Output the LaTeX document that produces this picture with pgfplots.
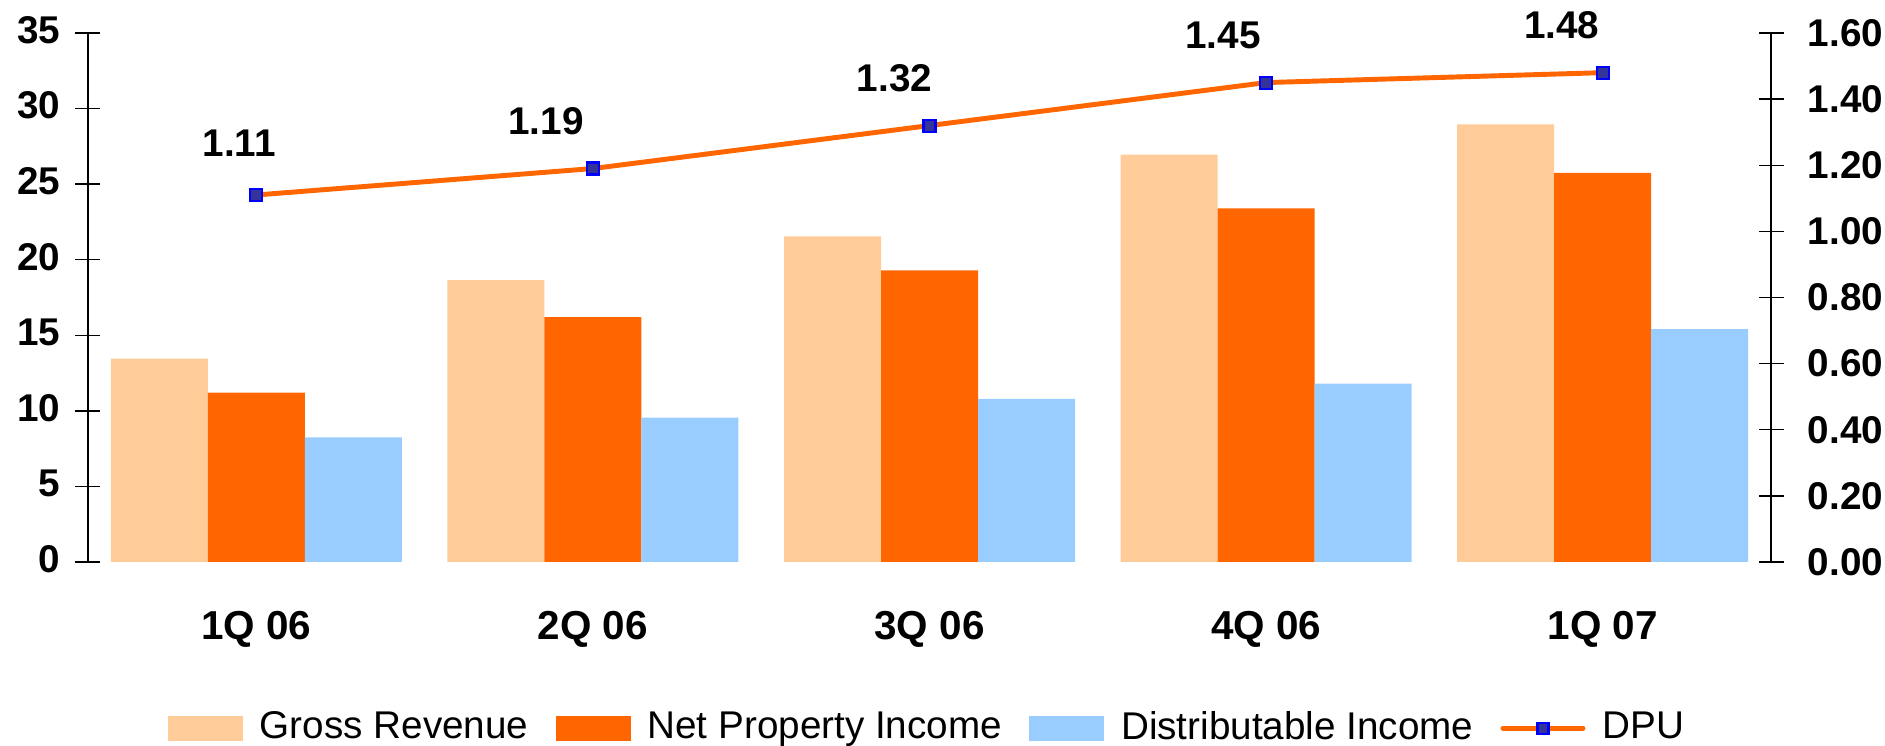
\documentclass[border=0pt]{standalone}
\usepackage{pgfplots}
\pgfplotsset{compat=1.18}
\usepackage{pgfplotstable}
\usepackage{fontspec}
\setmainfont{Liberation Sans}

\definecolor{gross}{HTML}{FFCC99}
\definecolor{npi}{HTML}{FF6600}
\definecolor{dist}{HTML}{99CCFF}
\definecolor{dpuline}{HTML}{FF6600}
\definecolor{dpufill}{HTML}{333399}

% values in S$ million (left) and DPU in cents (right)
\pgfplotstableread{
x gross npi dist
0 13.45 11.2 8.25
1 18.65 16.2 9.55
2 21.55 19.3 10.8
3 26.95 23.4 11.8
4 28.95 25.75 15.4
}\incomedata

\pgfplotstableread{
x dpu xs ys
0 1.11 -1.7 5.2
1 1.19 -4.7 4.7
2 1.32 -3.5 4.7
3 1.45 -4.3 4.7
4 1.48 -4.1 4.7
}\dpudata

\begin{document}
\begin{tikzpicture}
\pgfplotsset{
  base/.style={
    at={(0,0)}, anchor=south west,
    scale only axis, width=168.3mm, height=52.9mm,
    xmin=-0.5, xmax=4.5,
    tick align=center, major tick length=2.5mm,
    tick style={black, line width=0.4pt},
    /pgf/number format/assume math mode=true,
    ticklabel style={font=\fontsize{11}{13}\selectfont\bfseries},
  }
}
\begin{axis}[
  base,
  ybar=0pt, bar width=9.7mm,
  ymin=0, ymax=35, ytick={0,5,...,35},
  axis y line*=left, axis x line*=bottom,
  x axis line style={draw=none},
  xtick={0,1,2,3,4}, xtick style={draw=none},
  xticklabels={1Q 06,2Q 06,3Q 06,4Q 06,1Q 07},
  xticklabel style={yshift=-1.2mm, font=\fontsize{11.5}{13}\selectfont\bfseries},
  yticklabel style={xshift=-0.3mm, yshift=0.3mm},
  legend columns=4,
  legend style={draw=none, at={(0.5,-0.314)}, anchor=center,
    font=\fontsize{11}{13}\selectfont,
    /tikz/every odd column/.append style={column sep=1mm},
    /tikz/every even column/.append style={column sep=2mm},
    inner sep=0pt},
  legend image code/.code={\fill[#1] (0mm,-1.25mm) rectangle (7.5mm,1.25mm);},
]
\addplot[fill=gross, draw=none] table[x=x, y=gross] {\incomedata};
\addlegendentry{Gross Revenue}
\addplot[fill=npi, draw=none] table[x=x, y=npi] {\incomedata};
\addlegendentry{Net Property Income}
\addplot[fill=dist, draw=none] table[x=x, y=dist] {\incomedata};
\addlegendentry{Distributable Income}
\addlegendimage{legend image code/.code={
    \draw[dpuline, line width=1.4pt, line cap=round] (0mm,0mm) -- (8mm,0mm);
    \node[draw=blue, fill=dpufill, line width=0.6pt, inner sep=0pt,
      minimum size=1.1mm] at (4mm,0mm) {};}}
\addlegendentry{DPU}
\end{axis}

\begin{axis}[
  base,
  ymin=0, ymax=1.6, ytick={0,0.2,0.4,0.6,0.8,1.0,1.2,1.4,1.6},
  yticklabel style={xshift=1.2mm, /pgf/number format/fixed,
    /pgf/number format/fixed zerofill, /pgf/number format/precision=2},
  axis y line*=right, axis x line=none,
]
\addplot[dpuline, line width=1.4pt, mark=square*,
  mark options={draw=blue, fill=dpufill, line width=0.6pt}, mark size=0.6mm,
  nodes near coords, point meta=explicit,
  visualization depends on={\thisrow{xs} \as \xs},
  visualization depends on={\thisrow{ys} \as \ys},
  every node near coord/.append style={anchor=center, xshift=\xs mm, yshift=\ys mm,
    black, font=\fontsize{11}{13}\selectfont\bfseries,
    /pgf/number format/fixed, /pgf/number format/fixed zerofill,
    /pgf/number format/precision=2, /pgf/number format/assume math mode=true},
] table[x=x, y=dpu, meta=dpu] {\dpudata};
\end{axis}

\pgfresetboundingbox
\path (-8.8mm,-18.4mm) rectangle (179.7mm,56.2mm);
\end{tikzpicture}
\end{document}
